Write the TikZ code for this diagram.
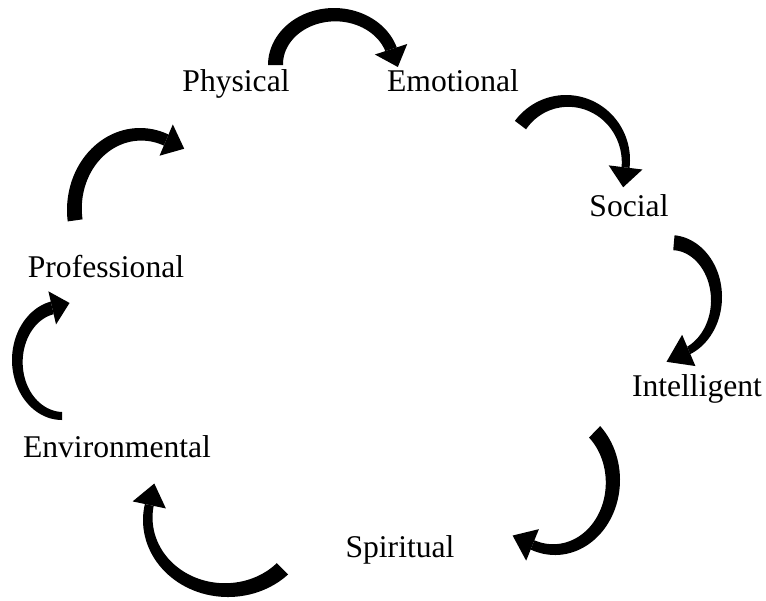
\documentclass[tikz,border=0pt]{standalone}
\usepackage{fontspec}
\setmainfont{Liberation Serif}

% centre x, centre y, radius x, radius y, start, end, width at start, width at end, head length
\newcommand{\curvarrow}[9]{%
\pgfmathsetmacro{\hm}{#8/2}
\fill plot[domain=#5:#6,samples=50,variable=\t] ({#1+#3*cos(\t)},{#2+#4*sin(\t)})
  -- plot[domain=#6:#5,samples=50,variable=\t] ({#1+(#3-#7-(#8-#7)*(\t-(#5))/(#6-(#5)))*cos(\t)},{#2+(#4-#7-(#8-#7)*(\t-(#5))/(#6-(#5)))*sin(\t)}) -- cycle;
\pgfmathsetmacro{\mx}{#1+(#3-\hm)*cos(#6)}
\pgfmathsetmacro{\my}{#2+(#4-\hm)*sin(#6)}
\pgfmathsetmacro{\ix}{#1+(#3-\hm-17)*cos(#6)}
\pgfmathsetmacro{\iy}{#2+(#4-\hm-17)*sin(#6)}
\pgfmathsetmacro{\ox}{#1+(#3-\hm+17)*cos(#6)}
\pgfmathsetmacro{\oy}{#2+(#4-\hm+17)*sin(#6)}
\pgfmathsetmacro{\tx}{-(#3-\hm)*sin(#6)}
\pgfmathsetmacro{\ty}{(#4-\hm)*cos(#6)}
\pgfmathsetmacro{\tl}{veclen(\tx,\ty)}
\pgfmathsetmacro{\px}{\mx+#9*(\tx)/\tl}
\pgfmathsetmacro{\py}{\my+#9*(\ty)/\tl}
\fill (\ix,\iy) -- (\px,\py) -- (\ox,\oy) -- cycle;
}

\begin{document}
\begin{tikzpicture}[x=0.02cm,y=-0.02cm,
  lbl/.style={anchor=base,inner sep=0pt,font=\fontsize{18}{22}\selectfont}]

\useasboundingbox (0,0) rectangle (766,600);

\node[lbl] (physical) at (236,91) {Physical};
\node[lbl] (emotional) at (453,91) {Emotional};
\node[lbl] (social) at (629,216) {Social};
\node[lbl] (intelligent) at (697,396) {Intelligent};
\node[lbl] (spiritual) at (400,557) {Spiritual};
\node[lbl] (environmental) at (117,457) {Environmental};
\node[lbl] (professional) at (106,277) {Professional};

\curvarrow{334}{65}{66}{57}{180}{342}{15}{12}{19}
\curvarrow{566}{160}{64}{65}{217}{367}{14}{8}{20}
\curvarrow{670}{297}{52}{62}{-85}{67}{15}{8}{25}
\curvarrow{555}{480}{65}{75}{-46}{112}{16}{10}{22}
\curvarrow{228}{520}{85}{77}{45}{192}{16}{9}{22}
\curvarrow{62}{360}{50}{60}{90}{257}{8}{13}{18}
\curvarrow{140}{210}{73}{82}{172}{293}{15}{12}{20}

\end{tikzpicture}
\end{document}
